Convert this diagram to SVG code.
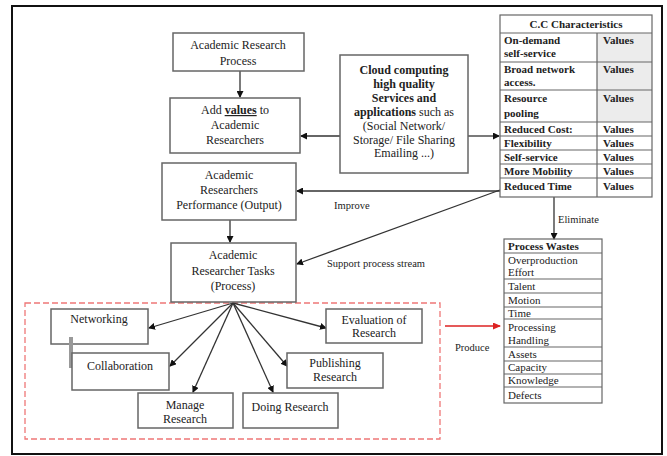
<svg xmlns="http://www.w3.org/2000/svg" width="667" height="456" viewBox="0 0 667 456">
<defs>
<marker id="ah" markerWidth="7" markerHeight="7" refX="6" refY="3.5" orient="auto" markerUnits="userSpaceOnUse"><path d="M0,0 L7,3.5 L0,7 z" fill="#111"/></marker>
<marker id="ahr" markerWidth="8" markerHeight="7" refX="7" refY="3.5" orient="auto" markerUnits="userSpaceOnUse"><path d="M0,0 L8,3.5 L0,7 z" fill="#d22"/></marker>
<style>
text{font-family:"Liberation Serif","Times New Roman",serif;fill:#222}
.t{font-size:12px;text-anchor:middle}
.b{font-weight:bold}
.box{fill:#fff;stroke:#666;stroke-width:1.5}
.cell{fill:none;stroke:#666;stroke-width:1.2}
.c{stroke:#333;stroke-width:1.3;fill:none;marker-end:url(#ah)}
.s{font-size:11px}
.lbl{font-size:10.5px}
</style>
</defs>
<rect x="0" y="0" width="667" height="456" fill="#fff"/>
<rect x="12" y="6" width="650" height="448" fill="none" stroke="#111" stroke-width="2"/>

<g id="dashed-region">
<rect x="25" y="303" width="415" height="136" fill="none" stroke="#e77" stroke-width="1.3" stroke-dasharray="6,3"/>
</g>

<g id="connectors">
<line class="c" x1="240" y1="71" x2="240" y2="97"/>
<line class="c" x1="340" y1="136" x2="301" y2="136"/>
<line class="c" x1="468" y1="136" x2="499" y2="136"/>
<line class="c" x1="500" y1="191" x2="297" y2="191"/>
<line class="c" x1="500" y1="190" x2="297" y2="264"/>
<line class="c" x1="230" y1="220" x2="230" y2="242"/>
<line class="c" x1="554" y1="197" x2="554" y2="239"/>
<line class="c" x1="233" y1="303" x2="149" y2="328"/>
<line class="c" x1="233" y1="303" x2="170" y2="366"/>
<line class="c" x1="233" y1="303" x2="193" y2="392"/>
<line class="c" x1="233" y1="303" x2="273" y2="392"/>
<line class="c" x1="233" y1="303" x2="287" y2="366"/>
<line class="c" x1="233" y1="303" x2="326" y2="328"/>
<line x1="445" y1="326" x2="500" y2="326" stroke="#d22" stroke-width="1.5" marker-end="url(#ahr)"/>
<text class="lbl" x="334" y="209">Improve</text>
<text class="lbl" x="327" y="267">Support process stream</text>
<text class="lbl" x="558" y="223">Eliminate</text>
<text class="lbl" x="455" y="351">Produce</text>
</g>

<g id="academic-research-process">
<rect class="box" x="173" y="33" width="131" height="38"/>
<text class="t" x="238" y="49">Academic Research</text>
<text class="t" x="238" y="65">Process</text>
</g>

<g id="add-values">
<rect class="box" x="170" y="98" width="130" height="55"/>
<text class="t" x="235" y="114">Add <tspan font-weight="bold" text-decoration="underline">values</tspan> to</text>
<text class="t" x="235" y="129">Academic</text>
<text class="t" x="235" y="144">Researchers</text>
</g>

<g id="performance">
<rect class="box" x="162" y="163" width="134" height="57"/>
<text class="t" x="229" y="179">Academic</text>
<text class="t" x="229" y="194">Researchers</text>
<text class="t" x="229" y="209">Performance (Output)</text>
</g>

<g id="tasks">
<rect class="box" x="171" y="243" width="125" height="59"/>
<text class="t" x="233" y="259">Academic</text>
<text class="t" x="233" y="275">Researcher Tasks</text>
<text class="t" x="233" y="290">(Process)</text>
</g>

<g id="cloud">
<rect class="box" x="340" y="55" width="128" height="118"/>
<text class="t b" x="404" y="74" font-size="11.5">Cloud computing</text>
<text class="t b" x="404" y="88" font-size="11.5">high quality</text>
<text class="t b" x="404" y="102" font-size="11.5">Services and</text>
<text class="t" x="404" y="116" font-size="11.5"><tspan font-weight="bold">applications</tspan> such as</text>
<text class="t" x="404" y="130" font-size="11">(Social Network/</text>
<text class="t" x="404" y="144" font-size="11">Storage/ File Sharing</text>
<text class="t" x="404" y="157" font-size="11">Emailing ...)</text>
</g>

<g id="cc-characteristics">
<rect x="597" y="33" width="55" height="89" fill="#ececec"/>
<rect class="cell" x="500" y="15" width="152" height="182"/>
<line class="cell" x1="597" y1="33" x2="597" y2="197"/>
<line class="cell" x1="500" y1="33" x2="652" y2="33"/>
<line class="cell" x1="500" y1="62" x2="652" y2="62"/>
<line class="cell" x1="500" y1="90" x2="652" y2="90"/>
<line class="cell" x1="500" y1="122" x2="652" y2="122"/>
<line class="cell" x1="500" y1="136" x2="652" y2="136"/>
<line class="cell" x1="500" y1="150" x2="652" y2="150"/>
<line class="cell" x1="500" y1="164" x2="652" y2="164"/>
<line class="cell" x1="500" y1="178" x2="652" y2="178"/>
<text class="s b" x="576" y="28" text-anchor="middle">C.C Characteristics</text>
<text class="s b" x="504" y="44">On-demand</text>
<text class="s b" x="504" y="57">self-service</text>
<text class="s b" x="504" y="73">Broad network</text>
<text class="s b" x="504" y="86">access.</text>
<text class="s b" x="504" y="102">Resource</text>
<text class="s b" x="504" y="117">pooling</text>
<text class="s b" x="504" y="133">Reduced Cost:</text>
<text class="s b" x="504" y="147">Flexibility</text>
<text class="s b" x="504" y="161">Self-service</text>
<text class="s b" x="504" y="175">More Mobility</text>
<text class="s b" x="504" y="190">Reduced Time</text>
<text class="s b" x="603" y="44">Values</text>
<text class="s b" x="603" y="73">Values</text>
<text class="s b" x="603" y="102">Values</text>
<text class="s b" x="603" y="133">Values</text>
<text class="s b" x="603" y="147">Values</text>
<text class="s b" x="603" y="161">Values</text>
<text class="s b" x="603" y="175">Values</text>
<text class="s b" x="603" y="190">Values</text>
</g>

<g id="process-wastes">
<rect class="cell" x="504" y="239" width="98" height="164" fill="#fff"/>
<line class="cell" x1="504" y1="253" x2="602" y2="253"/>
<line class="cell" x1="504" y1="279" x2="602" y2="279"/>
<line class="cell" x1="504" y1="293" x2="602" y2="293"/>
<line class="cell" x1="504" y1="307" x2="602" y2="307"/>
<line class="cell" x1="504" y1="319" x2="602" y2="319"/>
<line class="cell" x1="504" y1="347" x2="602" y2="347"/>
<line class="cell" x1="504" y1="361" x2="602" y2="361"/>
<line class="cell" x1="504" y1="374" x2="602" y2="374"/>
<line class="cell" x1="504" y1="387" x2="602" y2="387"/>
<text class="s b" x="508" y="250">Process Wastes</text>
<text class="s" x="508" y="264">Overproduction</text>
<text class="s" x="508" y="276">Effort</text>
<text class="s" x="508" y="290">Talent</text>
<text class="s" x="508" y="304">Motion</text>
<text class="s" x="508" y="317">Time</text>
<text class="s" x="508" y="331">Processing</text>
<text class="s" x="508" y="344">Handling</text>
<text class="s" x="508" y="358">Assets</text>
<text class="s" x="508" y="371">Capacity</text>
<text class="s" x="508" y="384">Knowledge</text>
<text class="s" x="508" y="399">Defects</text>
</g>

<g id="networking">
<rect class="box" x="51" y="309" width="97" height="35"/>
<text class="t" x="99" y="323" font-size="11">Networking</text>
</g>
<rect x="69" y="337" width="4" height="31" fill="#999"/>
<g id="collaboration">
<rect class="box" x="72" y="353" width="97" height="37"/>
<text class="t" x="120" y="370" font-size="11">Collaboration</text>
</g>
<g id="manage-research">
<rect class="box" x="138" y="393" width="95" height="35"/>
<text class="t" x="185" y="409" font-size="11">Manage</text>
<text class="t" x="185" y="423" font-size="11">Research</text>
</g>
<g id="doing-research">
<rect class="box" x="243" y="393" width="95" height="35"/>
<text class="t" x="290" y="411" font-size="11">Doing Research</text>
</g>
<g id="publishing-research">
<rect class="box" x="287" y="353" width="96" height="35"/>
<text class="t" x="335" y="367" font-size="11">Publishing</text>
<text class="t" x="335" y="381" font-size="11">Research</text>
</g>
<g id="evaluation-research">
<rect class="box" x="326" y="309" width="96" height="34"/>
<text class="t" x="374" y="324" font-size="11">Evaluation of</text>
<text class="t" x="374" y="337" font-size="11">Research</text>
</g>
</svg>
